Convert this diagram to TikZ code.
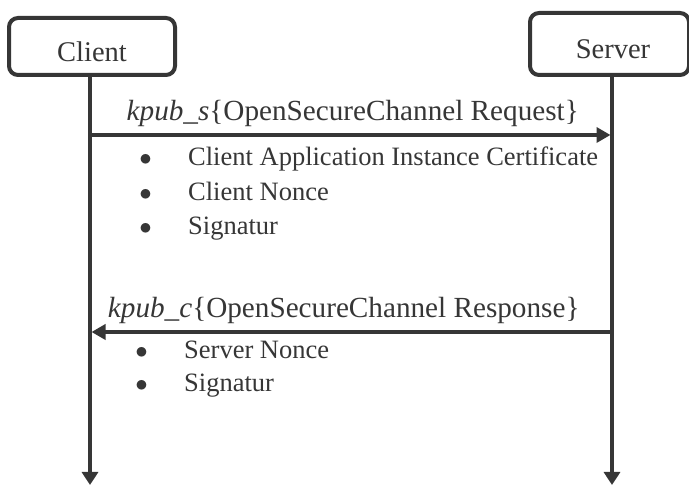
\documentclass[tikz,border=0pt]{standalone}
\usepackage{fontspec}
\setmainfont{Liberation Serif}
\usepackage{xcolor}
\usetikzlibrary{arrows.meta,positioning}
\definecolor{ink}{HTML}{363636}
\newcommand{\bul}[1]{\llap{$\bullet$\hspace{36.5pt}}#1}

\begin{document}
\begin{tikzpicture}[
  x=1pt, y=1pt,
  font=\fontsize{28.5}{34}\selectfont,
  text=ink,
  party/.style={draw=ink, line width=4pt, rounded corners=9pt, inner sep=0pt, text height=30pt, text depth=0pt, align=center},
  life/.style={draw=ink, line width=3.5pt, -{Triangle[length=13pt, width=16pt]}},
  msg/.style={draw=ink, line width=3.5pt, -{Triangle[length=14pt, width=15pt]}},
  lbl/.style={inner sep=0pt, font=\fontsize{29.2}{35}\selectfont},
  item/.style={anchor=west, inner sep=0pt, text height=0.7em, text depth=0.22em, font=\fontsize{26.5}{32}\selectfont},
]
\useasboundingbox (0,0) rectangle (689,486);
\node[party, minimum width=166pt, minimum height=57pt] (client) at (92,439.5) {Client};
\node[party, minimum width=159pt, minimum height=62pt, right=351pt of client, yshift=2.5pt] (server) {\hspace{7pt}Server};
\coordinate (cl-end) at (90,1);
\coordinate (sv-end) at (612,1);
\coordinate (rq-c) at (90,351);
\coordinate (rq-s) at (610.5,351);
\coordinate (rs-s) at (612,154);
\coordinate (rs-c) at (91.5,154);
\draw[life] (client.south -| cl-end) -- (cl-end);
\draw[life] (server.south -| sv-end) -- (sv-end);
\draw[msg] (rq-c) -- node[lbl, above=7pt, xshift=2.5pt] {\textit{kpub\_s}\{OpenSecureChannel Request\}} (rq-s);
\node[item] (rq1) at (188,323) {\bul{Client Application Instance Certificate}};
\node[item] (rq2) at (188,288) {\bul{Client Nonce}};
\node[item] (rq3) at (188,254) {\bul{Signatur}};
\draw[msg] (rs-s) -- node[lbl, above=7pt, xshift=-8pt] {\textit{kpub\_c}\{OpenSecureChannel Response\}} (rs-c);
\node[item] (rs1) at (184,130) {\bul{Server Nonce}};
\node[item] (rs2) at (184,97) {\bul{Signatur}};
\end{tikzpicture}
\end{document}
